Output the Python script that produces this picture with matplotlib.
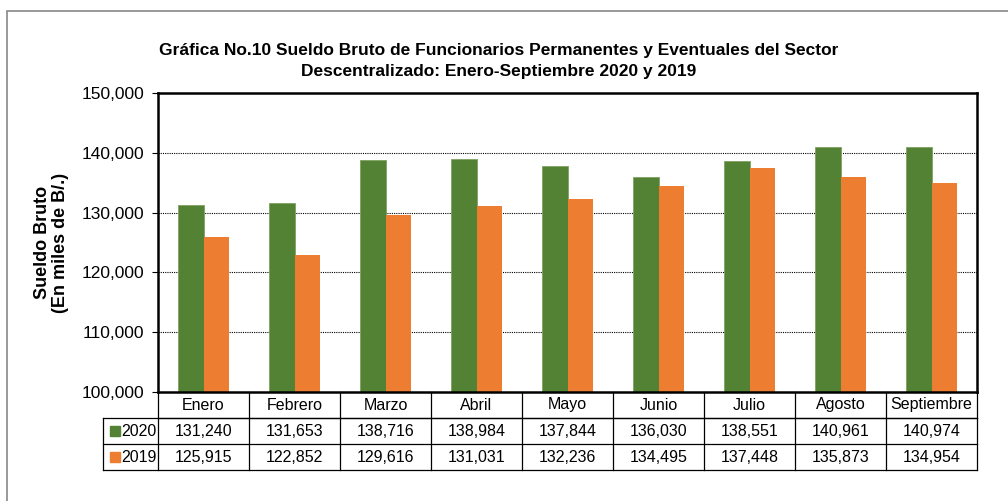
import numpy as np
import matplotlib.pyplot as plt
from matplotlib.transforms import blended_transform_factory
from matplotlib.patches import Rectangle

plt.rcParams['font.family'] = ['Liberation Sans', 'DejaVu Sans']

# data
meses = ["Enero", "Febrero", "Marzo", "Abril", "Mayo", "Junio", "Julio", "Agosto", "Septiembre"]
v2020 = [131240, 131653, 138716, 138984, 137844, 136030, 138551, 140961, 140974]
v2019 = [125915, 122852, 129616, 131031, 132236, 134495, 137448, 135873, 134954]
series = ["2020", "2019"]
colores = ["#548235", "#ED7D31"]

fig = plt.figure(figsize=(10.08, 5.01), dpi=100)
ax = fig.add_axes([158/1008, 1-392/501, (977-158)/1008, (392-93)/501])

# outer frame of the chart (cut off at right/bottom)
fig.patches.append(Rectangle((7/1008, -0.1), 1.2, 1-11/501+0.1, transform=fig.transFigure,
                             fill=False, edgecolor="#888888", linewidth=1.2))

x = np.arange(len(meses))
w = 0.285
ax.bar(x - w/2, v2020, w, color=colores[0], edgecolor="#7fa060", linewidth=0.6, zorder=3)
ax.bar(x + w/2, v2019, w, color=colores[1], zorder=3)

ax.set_xlim(-0.5, len(meses) - 0.5)
ax.set_ylim(100000, 150000)
ax.set_yticks(np.arange(100000, 150001, 10000))
ax.yaxis.set_major_formatter(plt.FuncFormatter(lambda v, p: f"{v:,.0f}"))
ax.tick_params(axis="y", labelsize=12.5, length=4, width=0.8, direction="out", pad=6)
ax.set_xticks([])
for g in [110000, 120000, 130000, 140000]:
    ax.axhline(g, color="black", linestyle=(0, (1, 1)), linewidth=0.8, zorder=1)
for s in ax.spines.values():
    s.set_linewidth(1.8)
    s.set_zorder(5)

ax.set_ylabel("Sueldo Bruto\n(En miles de B/.)", fontsize=13, fontweight="bold", labelpad=9,
              linespacing=1.05)

fig.text(0.495, 1-61/501, "Gráfica No.10 Sueldo Bruto de Funcionarios Permanentes y Eventuales del Sector\n"
         "Descentralizado: Enero-Septiembre 2020 y 2019", ha="center", va="center",
         fontsize=12.5, fontweight="bold", linespacing=1.45)

# data table under the chart
tr = blended_transform_factory(ax.transData, ax.transAxes)
rh = 26 / 299
left = -1.1
n = len(meses)
lw = 0.9
# horizontal lines
ax.plot([-0.5, n - 0.5], [-rh, -rh], transform=tr, color="black", lw=lw, clip_on=False)
ax.plot([left, n - 0.5], [-rh, -rh], transform=tr, color="black", lw=lw, clip_on=False)
ax.plot([left, n - 0.5], [-2*rh, -2*rh], transform=tr, color="black", lw=lw, clip_on=False)
ax.plot([left, n - 0.5], [-3*rh, -3*rh], transform=tr, color="black", lw=lw, clip_on=False)
# vertical lines
for i in range(n + 1):
    ax.plot([i - 0.5, i - 0.5], [0, -3*rh], transform=tr, color="black", lw=lw, clip_on=False)
ax.plot([left, left], [-rh, -3*rh], transform=tr, color="black", lw=lw, clip_on=False)

for i, m in enumerate(meses):
    ax.text(i, -rh/2, m, transform=tr, ha="center", va="center", fontsize=11.5)
    ax.text(i, -1.5*rh, f"{v2020[i]:,}", transform=tr, ha="center", va="center", fontsize=11.5)
    ax.text(i, -2.5*rh, f"{v2019[i]:,}", transform=tr, ha="center", va="center", fontsize=11.5)

for k, (lab, c) in enumerate(zip(series, colores)):
    yy = -(1.5 + k) * rh
    ax.plot([left + 0.13], [yy], transform=tr, marker="s", markersize=6.5, color=c,
            linestyle="none", clip_on=False)
    ax.text(left + 0.2, yy, lab, transform=tr, ha="left", va="center", fontsize=11.5)

fig.savefig("out.png", dpi=100)
